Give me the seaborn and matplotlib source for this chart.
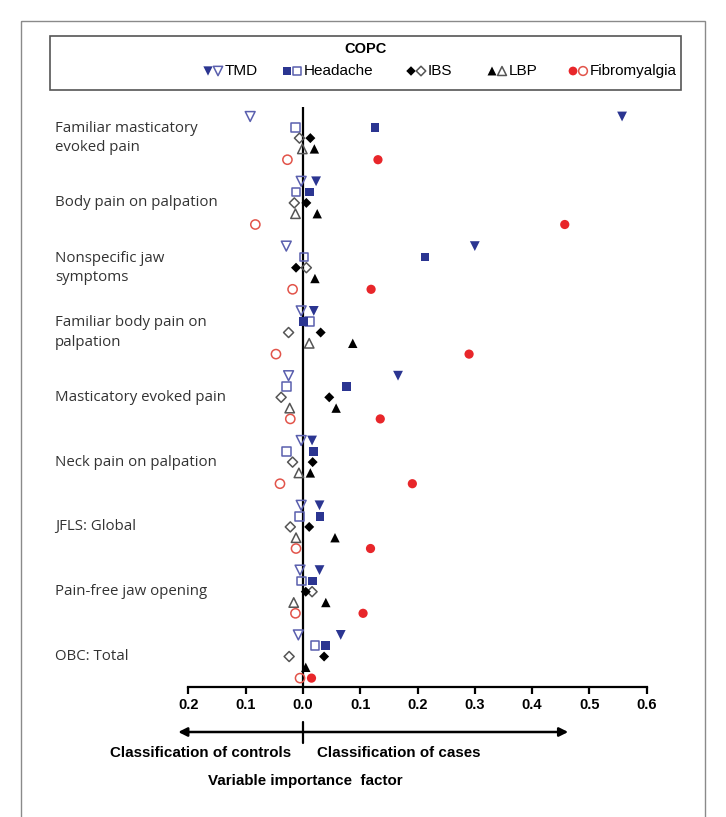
import numpy as np
import pandas as pd
import matplotlib
matplotlib.use("Agg")
import matplotlib.pyplot as plt
import matplotlib.transforms as mtransforms
from matplotlib.patches import Rectangle
import seaborn as sns

# ---- data -------------------------------------------------------------
variables = [
    "Familiar masticatory\nevoked pain",
    "Body pain on palpation",
    "Nonspecific jaw\nsymptoms",
    "Familiar body pain on\npalpation",
    "Masticatory evoked pain",
    "Neck pain on palpation",
    "JFLS: Global",
    "Pain-free jaw opening",
    "OBC: Total",
]
conditions = ["TMD", "Headache", "IBS", "LBP", "Fibromyalgia"]

# variable importance for classifying cases (filled markers)
cases_tmd = [0.557, 0.023, 0.300, 0.019, 0.166, 0.016, 0.029, 0.029, 0.066]
cases_headache = [0.126, 0.012, 0.213, 0.001, 0.076, 0.019, 0.030, 0.017, 0.040]
cases_ibs = [0.013, 0.006, -0.012, 0.031, 0.046, 0.017, 0.011, 0.005, 0.037]
cases_lbp = [0.020, 0.025, 0.021, 0.087, 0.058, 0.013, 0.056, 0.040, 0.005]
cases_fibro = [0.131, 0.457, 0.119, 0.290, 0.135, 0.191, 0.118, 0.105, 0.015]

# variable importance for classifying controls (open markers, drawn leftwards)
controls_tmd = [0.092, 0.003, 0.029, 0.003, 0.025, 0.003, 0.003, 0.005, 0.008]
controls_headache = [0.013, 0.012, -0.002, -0.012, 0.028, 0.029, 0.006, 0.002, -0.021]
controls_ibs = [0.006, 0.015, -0.006, 0.025, 0.038, 0.018, 0.022, -0.016, 0.024]
controls_lbp = [0.001, 0.013, np.nan, -0.011, 0.023, 0.007, 0.012, 0.016, np.nan]
controls_fibro = [0.027, 0.083, 0.018, 0.047, 0.022, 0.040, 0.012, 0.013, 0.005]

x_ticks = [-0.2, -0.1, 0.0, 0.1, 0.2, 0.3, 0.4, 0.5, 0.6]
x_ticklabels = ["0.2", "0.1", "0.0", "0.1", "0.2", "0.3", "0.4", "0.5", "0.6"]

cases = [cases_tmd, cases_headache, cases_ibs, cases_lbp, cases_fibro]
controls = [controls_tmd, controls_headache, controls_ibs, controls_lbp, controls_fibro]

# ---- styling ----------------------------------------------------------
markers = {"TMD": "v", "Headache": "s", "IBS": "D", "LBP": "^", "Fibromyalgia": "o"}
sizes = {"TMD": 50, "Headache": 40, "IBS": 26, "LBP": 46, "Fibromyalgia": 44}
fill_col = {"TMD": "#2b3591", "Headache": "#2b3591", "IBS": "#000000",
            "LBP": "#000000", "Fibromyalgia": "#e8262a"}
open_col = {"TMD": "#5a5fae", "Headache": "#5a5fae", "IBS": "#555555",
            "LBP": "#555555", "Fibromyalgia": "#e2544a"}

ROWS_PER_GROUP = 6  # 5 conditions + one blank row between variables

rows = []
for ci, cond in enumerate(conditions):
    for vi, var in enumerate(variables):
        ypos = vi * ROWS_PER_GROUP + ci
        rows.append(dict(variable=var, condition=cond, kind="case",
                         x=cases[ci][vi], y=ypos))
        rows.append(dict(variable=var, condition=cond, kind="control",
                         x=-controls[ci][vi], y=ypos))
df = pd.DataFrame(rows)

sns.set_theme(style="white")
plt.rcParams["font.family"] = ["Liberation Sans", "DejaVu Sans"]

W, H = 726, 817
fig = plt.figure(figsize=(W / 100, H / 100), dpi=100)

# pixel-space overlay for frame, legend and annotations
pax = fig.add_axes([0, 0, 1, 1])
pax.set_xlim(0, W)
pax.set_ylim(H, 0)
pax.axis("off")

x_left, x_right = 188.3, 646.7
y_top, y_axis = 107.0, 687.3
ax = fig.add_axes([x_left / W, 1 - y_axis / H,
                   (x_right - x_left) / W, (y_axis - y_top) / H])
ax.patch.set_visible(False)

for cond in conditions:
    sub = df[df.condition == cond]
    ctrl = sub[sub.kind == "control"].dropna(subset=["x"])
    sns.scatterplot(data=ctrl, x="x", y="y", marker=markers[cond],
                    s=sizes[cond], ax=ax, legend=False, zorder=3)
    coll = ax.collections[-1]
    coll.set_facecolor("none")
    coll.set_edgecolor(open_col[cond])
    coll.set_linewidth(1.1)
for cond in conditions:
    sub = df[df.condition == cond]
    cs = sub[sub.kind == "case"]
    sns.scatterplot(data=cs, x="x", y="y", marker=markers[cond],
                    s=sizes[cond], color=fill_col[cond], edgecolor="none",
                    linewidth=0, ax=ax, legend=False, zorder=4)

ax.axvline(0, color="black", lw=1.6, zorder=2)
ax.set_xlim(-0.2, 0.6)
ax.set_ylim(52.85, -0.88)
for s in ["left", "right", "top"]:
    ax.spines[s].set_visible(False)
ax.spines["bottom"].set_color("black")
ax.spines["bottom"].set_linewidth(1.6)
ax.set_yticks([])
ax.set_xticks(x_ticks)
ax.set_xticklabels(x_ticklabels, fontweight="bold", fontsize=10.5)
ax.tick_params(axis="x", direction="out", length=5, width=1.6,
               pad=3, colors="black", bottom=True)
ax.set_xlabel("")
ax.set_ylabel("")

# variable labels on the left
lab_tr = mtransforms.blended_transform_factory(fig.transFigure, ax.transData)
for vi, var in enumerate(variables):
    ax.text(55 / W, vi * ROWS_PER_GROUP + 2, var, transform=lab_tr,
            ha="left", va="center", fontsize=10.8, color="#333333",
            family=["Open Sans", "DejaVu Sans"], linespacing=1.4)

# classification arrow under the axis
arr_tr = mtransforms.blended_transform_factory(ax.transData, pax.transData)
ax.annotate("", xy=(-0.2176, 732), xytext=(0.463, 732), xycoords=arr_tr,
            textcoords=arr_tr,
            arrowprops=dict(arrowstyle="<|-|>", color="black", lw=1.8,
                            mutation_scale=13, shrinkA=0, shrinkB=0),
            annotation_clip=False)
ax.plot([0, 0], [722, 743], color="black", lw=1.6, transform=arr_tr,
        clip_on=False)
pax.text(291, 753, "Classification of controls", ha="right", va="center",
         fontsize=10.9, fontweight="bold", color="black")
pax.text(317, 753, "Classification of cases", ha="left", va="center",
         fontsize=10.9, fontweight="bold", color="black")
pax.text(305, 781, "Variable importance  factor", ha="center", va="center",
         fontsize=10.9, fontweight="bold", color="black")

# outer frame
pax.add_patch(Rectangle((21, 21), 684, 830, fill=False, edgecolor="#8a8a8a",
                        lw=1.0))

# legend box
pax.add_patch(Rectangle((50, 36), 631, 54, fill=False, edgecolor="#555555",
                        lw=1.2))
pax.text(366, 49, "COPC", ha="center", va="center", fontsize=10.5,
         fontweight="bold", color="black")
leg_x = {"TMD": 208, "Headache": 287, "IBS": 411, "LBP": 492,
         "Fibromyalgia": 573}
leg_y = 71
for cond in conditions:
    x0 = leg_x[cond]
    pax.scatter([x0], [leg_y], marker=markers[cond], s=sizes[cond] * 0.9,
                color=fill_col[cond], edgecolor="none")
    pax.scatter([x0 + 10], [leg_y], marker=markers[cond], s=sizes[cond] * 0.9,
                facecolor="none", edgecolor=open_col[cond], linewidth=1.1)
    pax.text(x0 + 17, leg_y, cond, ha="left", va="center", fontsize=11,
             color="black")

fig.savefig("out.png", dpi=100)
